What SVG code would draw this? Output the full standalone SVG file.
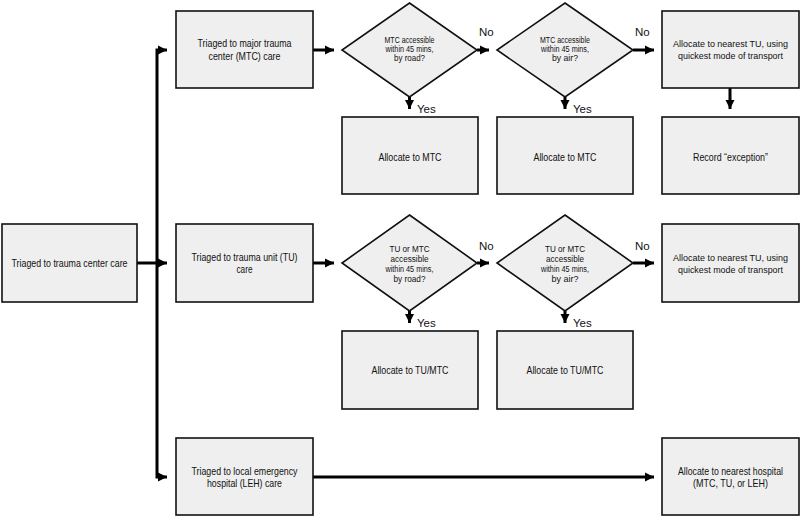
<svg xmlns="http://www.w3.org/2000/svg" width="800" height="517" viewBox="0 0 800 517">
<style>
.box{fill:#efefef;stroke:#111;stroke-width:1.6}
.t{font-family:"Liberation Sans",Arial,sans-serif;font-size:10.2px;fill:#111;text-anchor:middle}
.r{font-size:9.4px}
.s{font-family:"Liberation Sans",Arial,sans-serif;font-size:8.4px;fill:#111;text-anchor:middle}
.l{font-family:"Liberation Sans",Arial,sans-serif;font-size:11.5px;fill:#111}
.c{fill:none;stroke:#000;stroke-width:3}
</style>
<defs>
<marker id="ah" markerUnits="userSpaceOnUse" markerWidth="10" markerHeight="10" refX="9" refY="5" orient="auto">
<path d="M0,0.5 L9,5 L0,9.5 z" fill="#000"/>
</marker>
</defs>
<rect width="800" height="517" fill="#fff"/>
<g id="connectors">
<path class="c" d="M137,263 L167,263" marker-end="url(#ah)"/>
<path class="c" d="M157,263 L157,50 L167,50" marker-end="url(#ah)"/>
<path class="c" d="M157,263 L157,477 L167,477" marker-end="url(#ah)"/>
<path class="c" d="M313,50 L334,50" marker-end="url(#ah)"/>
<path class="c" d="M477,50 L489,50" marker-end="url(#ah)"/>
<path class="c" d="M633,50 L654,50" marker-end="url(#ah)"/>
<path class="c" d="M730,88 L730,109" marker-end="url(#ah)"/>
<path class="c" d="M409.5,97 L409.5,109" marker-end="url(#ah)"/>
<path class="c" d="M565,97 L565,109" marker-end="url(#ah)"/>
<path class="c" d="M313,263 L334,263" marker-end="url(#ah)"/>
<path class="c" d="M477,263 L489,263" marker-end="url(#ah)"/>
<path class="c" d="M633,263 L654,263" marker-end="url(#ah)"/>
<path class="c" d="M409.5,311 L409.5,323" marker-end="url(#ah)"/>
<path class="c" d="M565,311 L565,323" marker-end="url(#ah)"/>
<path class="c" d="M313,477 L654,477" marker-end="url(#ah)"/>
<text class="l" x="479" y="36">No</text>
<text class="l" x="635" y="36">No</text>
<text class="l" x="479" y="250">No</text>
<text class="l" x="635" y="250">No</text>
<text class="l" x="417" y="113">Yes</text>
<text class="l" x="573" y="113">Yes</text>
<text class="l" x="417" y="327">Yes</text>
<text class="l" x="573" y="327">Yes</text>
</g>
<g id="start">
<rect class="box" x="2" y="224" width="135" height="78"/>
<text class="t" x="69.5" y="267" textLength="116" lengthAdjust="spacingAndGlyphs">Triaged to trauma center care</text>
</g>
<g id="mtc">
<rect class="box" x="176" y="11" width="137" height="77"/>
<text class="t" x="244.5" y="47" textLength="94" lengthAdjust="spacingAndGlyphs">Triaged to major trauma</text>
<text class="t" x="244.5" y="60" textLength="72" lengthAdjust="spacingAndGlyphs">center (MTC) care</text>
</g>
<g id="mtc_road">
<polygon class="box" points="409.5,3 477,50 409.5,97 342,50"/>
<text class="s" x="409.5" y="43" textLength="50" lengthAdjust="spacingAndGlyphs">MTC accessible</text>
<text class="s" x="409.5" y="52" textLength="48" lengthAdjust="spacingAndGlyphs">within 45 mins,</text>
<text class="s" x="409.5" y="61" textLength="31" lengthAdjust="spacingAndGlyphs">by road?</text>
</g>
<g id="mtc_air">
<polygon class="box" points="565,3 633,50 565,97 497,50"/>
<text class="s" x="565" y="43" textLength="50" lengthAdjust="spacingAndGlyphs">MTC accessible</text>
<text class="s" x="565" y="52" textLength="48" lengthAdjust="spacingAndGlyphs">within 45 mins,</text>
<text class="s" x="565" y="61" textLength="26" lengthAdjust="spacingAndGlyphs">by air?</text>
</g>
<g id="mtc_nearest_tu">
<rect class="box" x="662" y="11" width="137" height="77"/>
<text class="t r" x="730.5" y="47" textLength="115" lengthAdjust="spacingAndGlyphs">Allocate to nearest TU, using</text>
<text class="t r" x="730.5" y="59" textLength="105" lengthAdjust="spacingAndGlyphs">quickest mode of transport</text>
</g>
<g id="alloc_mtc_road">
<rect class="box" x="342" y="117" width="136" height="77"/>
<text class="t" x="410" y="161" textLength="63" lengthAdjust="spacingAndGlyphs">Allocate to MTC</text>
</g>
<g id="alloc_mtc_air">
<rect class="box" x="497" y="117" width="136" height="77"/>
<text class="t" x="565" y="161" textLength="63" lengthAdjust="spacingAndGlyphs">Allocate to MTC</text>
</g>
<g id="exception">
<rect class="box" x="662" y="117" width="137" height="77"/>
<text class="t" x="730.5" y="161" textLength="75" lengthAdjust="spacingAndGlyphs">Record “exception”</text>
</g>
<g id="tu">
<rect class="box" x="176" y="224" width="137" height="78"/>
<text class="t" x="244.5" y="261" textLength="106" lengthAdjust="spacingAndGlyphs">Triaged to trauma unit (TU)</text>
<text class="t" x="244.5" y="273" textLength="16" lengthAdjust="spacingAndGlyphs">care</text>
</g>
<g id="tu_road">
<polygon class="box" points="409.5,215 477,263 409.5,311 342,263"/>
<text class="s" x="409.5" y="252" textLength="40" lengthAdjust="spacingAndGlyphs">TU or MTC</text>
<text class="s" x="409.5" y="262" textLength="38" lengthAdjust="spacingAndGlyphs">accessible</text>
<text class="s" x="409.5" y="272" textLength="48" lengthAdjust="spacingAndGlyphs">within 45 mins,</text>
<text class="s" x="409.5" y="282" textLength="32" lengthAdjust="spacingAndGlyphs">by road?</text>
</g>
<g id="tu_air">
<polygon class="box" points="565,215 633,263 565,311 497,263"/>
<text class="s" x="565" y="252" textLength="40" lengthAdjust="spacingAndGlyphs">TU or MTC</text>
<text class="s" x="565" y="262" textLength="38" lengthAdjust="spacingAndGlyphs">accessible</text>
<text class="s" x="565" y="272" textLength="48" lengthAdjust="spacingAndGlyphs">within 45 mins,</text>
<text class="s" x="565" y="282" textLength="27" lengthAdjust="spacingAndGlyphs">by air?</text>
</g>
<g id="tu_nearest_tu">
<rect class="box" x="662" y="224" width="137" height="78"/>
<text class="t r" x="730.5" y="261" textLength="115" lengthAdjust="spacingAndGlyphs">Allocate to nearest TU, using</text>
<text class="t r" x="730.5" y="273" textLength="105" lengthAdjust="spacingAndGlyphs">quickest mode of transport</text>
</g>
<g id="alloc_tumtc_road">
<rect class="box" x="342" y="331" width="136" height="78"/>
<text class="t" x="410" y="374" textLength="77" lengthAdjust="spacingAndGlyphs">Allocate to TU/MTC</text>
</g>
<g id="alloc_tumtc_air">
<rect class="box" x="497" y="331" width="136" height="78"/>
<text class="t" x="565" y="374" textLength="77" lengthAdjust="spacingAndGlyphs">Allocate to TU/MTC</text>
</g>
<g id="leh">
<rect class="box" x="176" y="438" width="137" height="77"/>
<text class="t" x="244.5" y="475" textLength="106" lengthAdjust="spacingAndGlyphs">Triaged to local emergency</text>
<text class="t" x="244.5" y="487" textLength="75" lengthAdjust="spacingAndGlyphs">hospital (LEH) care</text>
</g>
<g id="nearest_hospital">
<rect class="box" x="662" y="438" width="137" height="77"/>
<text class="t" x="730.5" y="475" textLength="105" lengthAdjust="spacingAndGlyphs">Allocate to nearest hospital</text>
<text class="t" x="730.5" y="487" textLength="75" lengthAdjust="spacingAndGlyphs">(MTC, TU, or LEH)</text>
</g>
</svg>
